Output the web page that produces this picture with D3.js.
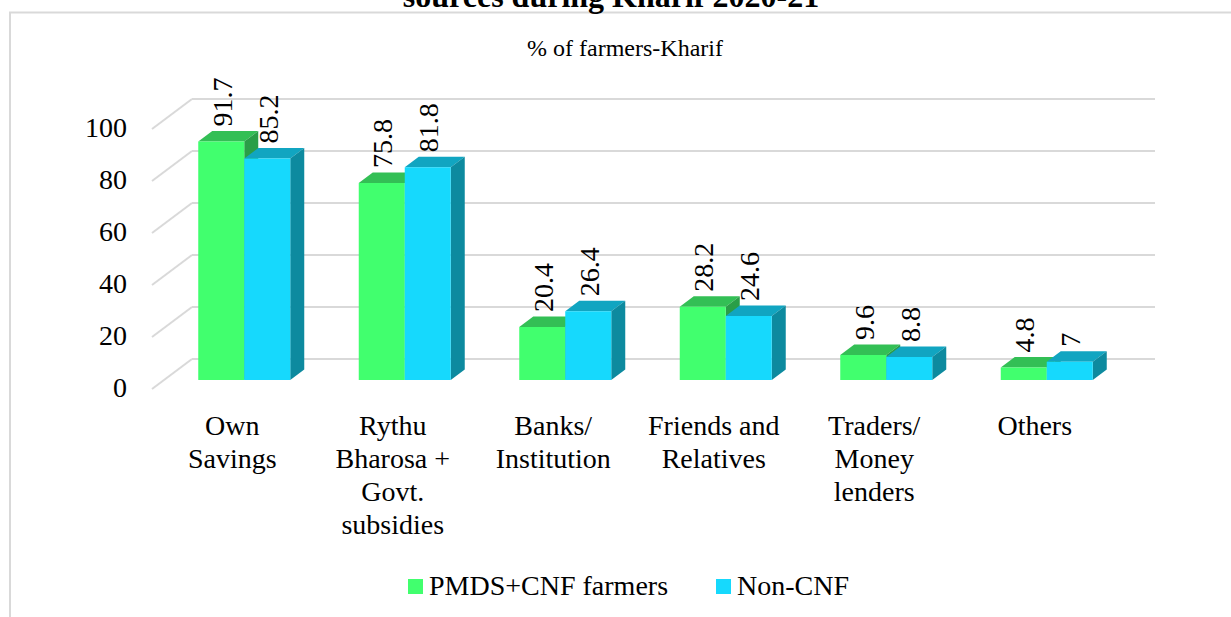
<!DOCTYPE html>
<meta charset="utf-8">
<style>
body { margin: 0; background: #fff; }
svg text { font-family: "Times New Roman", "Liberation Serif", serif; fill: #000; }
.grid { stroke: #d9d9d9; stroke-width: 2; fill: none; }
</style>
<svg width="1231" height="617"></svg>
<script src="https://cdn.jsdelivr.net/npm/d3@7"></script>
<script>
var categories = ["Own Savings", "Rythu Bharosa + Govt. subsidies", "Banks/ Institution",
                  "Friends and Relatives", "Traders/ Money lenders", "Others"];
var catLines = [["Own", "Savings"], ["Rythu", "Bharosa +", "Govt.", "subsidies"], ["Banks/", "Institution"],
                ["Friends and", "Relatives"], ["Traders/", "Money", "lenders"], ["Others"]];
var seriesNames = ["PMDS+CNF farmers", "Non-CNF"];
var cnfValues = [91.7, 75.8, 20.4, 28.2, 9.6, 4.8];
var nonCnfValues = [85.2, 81.8, 26.4, 24.6, 8.8, 7];
var yTicks = [0, 20, 40, 60, 80, 100];

var colors = {
  "PMDS+CNF farmers": {front: "#41ff6e", top: "#33bf55", side: "#2a9e47"},
  "Non-CNF": {front: "#16d9fd", top: "#11a5c1", side: "#0d8a9f"}
};

var svg = d3.select("svg");

// frame
svg.append("rect").attr("x", 10).attr("y", 12.5).attr("width", 1240).attr("height", 620)
  .attr("fill", "none").attr("stroke", "#d9d9d9").attr("stroke-width", 2);

// title (cut off at top)
svg.append("text").attr("x", 611).attr("y", 7).attr("text-anchor", "middle")
  .attr("font-size", 32).attr("font-weight", "bold").text("sources during Kharif 2020-21");
svg.append("text").attr("x", 625).attr("y", 56).attr("text-anchor", "middle")
  .attr("font-size", 24).text("% of farmers-Kharif");

// front plane scales; depth offset to back wall
var depthX = 40, depthY = -30;
var x = d3.scaleBand().domain(categories).range([152, 1115]);
var y = d3.scaleLinear().domain([0, 100]).range([389, 129]);
var xs = d3.scaleBand().domain(seriesNames).range([-46, 46]);

function proj(px, py, f) { return [px + depthX * f, py + depthY * f]; }

// back wall gridlines + floor diagonals
yTicks.forEach(function(t) {
  var b0 = proj(x.range()[0], y(t), 1), b1 = proj(x.range()[1], y(t), 1);
  svg.append("line").attr("class", "grid")
    .attr("x1", b0[0]).attr("y1", b0[1]).attr("x2", b1[0]).attr("y2", b1[1]);
  svg.append("line").attr("class", "grid")
    .attr("x1", b0[0]).attr("y1", b0[1]).attr("x2", x.range()[0]).attr("y2", y(t));
});

// y axis labels
svg.append("g").selectAll("text").data(yTicks).enter().append("text")
  .attr("x", 127).attr("y", function(d) { return y(d) + 2; })
  .attr("text-anchor", "end").attr("dominant-baseline", "middle")
  .attr("font-size", 28).text(function(d) { return d; });

// bars
var fFront = 0.3, fBack = 0.65;
var data = categories.map(function(c, i) {
  return {cat: c, vals: [{s: seriesNames[0], v: cnfValues[i]}, {s: seriesNames[1], v: nonCnfValues[i]}]};
});

function pts(a) { return a.map(function(p) { return p.join(","); }).join(" "); }

var groups = svg.append("g").selectAll("g").data(data).enter().append("g");
groups.each(function(d) {
  var g = d3.select(this);
  var cx = x(d.cat) + x.bandwidth() / 2;
  d.vals.forEach(function(b) {
    var xl = cx + xs(b.s), xr = xl + xs.bandwidth();
    var yt = y(b.v), yb = y(0);
    var fl = proj(xl, yt, fFront), fr = proj(xr, yt, fFront);
    var bl = proj(xl, yt, fBack), br = proj(xr, yt, fBack);
    var frb = proj(xr, yb, fFront), brb = proj(xr, yb, fBack), flb = proj(xl, yb, fFront);
    var c = colors[b.s];
    g.append("polygon").attr("points", pts([fl, fr, br, bl])).attr("fill", c.top);
    g.append("polygon").attr("points", pts([fr, br, brb, frb])).attr("fill", c.side);
    g.append("polygon").attr("points", pts([fl, fr, frb, flb])).attr("fill", c.front);
    var lx = (fl[0] + fr[0]) / 2 + 1, ly = fl[1] - 15;
    g.append("text").attr("transform", "translate(" + lx + "," + ly + ") rotate(-90)")
      .attr("dominant-baseline", "central").attr("font-size", 28).text(b.v);
  });
});

// category labels
svg.append("g").selectAll("text").data(categories).enter().append("text")
  .attr("text-anchor", "middle").attr("font-size", 28)
  .each(function(c, i) {
    var t = d3.select(this);
    var cx = x(c) + x.bandwidth() / 2;
    catLines[i].forEach(function(line, k) {
      t.append("tspan").attr("x", cx).attr("y", 435 + k * 33).text(line);
    });
  });

// legend
var legendX = [408, 716];
seriesNames.forEach(function(s, i) {
  svg.append("rect").attr("x", legendX[i]).attr("y", 579).attr("width", 15).attr("height", 15)
    .attr("fill", colors[s].front);
  svg.append("text").attr("x", legendX[i] + 21).attr("y", 595).attr("font-size", 28).text(s);
});
</script>
